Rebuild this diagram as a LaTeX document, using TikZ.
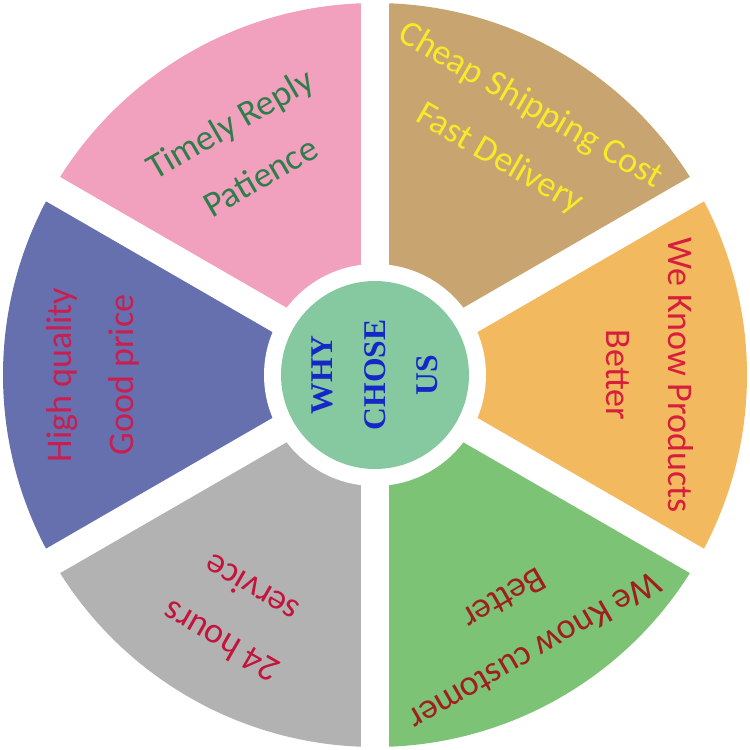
\documentclass[tikz,border=0pt]{standalone}
\usepackage{fontspec}
\setmainfont{Carlito}
\newfontfamily\whyfont{Liberation Serif}
\usetikzlibrary{positioning}
\definecolor{whyPink}{RGB}{241, 160, 190}
\definecolor{whyTan}{RGB}{200, 164, 112}
\definecolor{whyOrange}{RGB}{243, 185, 95}
\definecolor{whyGreen}{RGB}{124, 195, 118}
\definecolor{whyGray}{RGB}{178, 178, 178}
\definecolor{whyBlue}{RGB}{102, 112, 174}
\definecolor{whyCentre}{RGB}{134, 200, 160}
\definecolor{whyDarkGreen}{RGB}{47, 125, 74}
\definecolor{whyYellow}{RGB}{245, 235, 40}
\definecolor{whyRed}{RGB}{215, 30, 60}
\definecolor{whyBrownRed}{RGB}{160, 30, 30}
\definecolor{whyCrimson}{RGB}{195, 20, 60}
\definecolor{whyRose}{RGB}{200, 30, 80}
\definecolor{whyInk}{RGB}{20, 40, 200}

\begin{document}
\begin{tikzpicture}[
  sectortext/.style={
    font=\fontsize{20.5}{35}\selectfont,
    align=center,
    inner sep=0pt
  },
  gap/.style={white, line width=0.56cm}
]
  \useasboundingbox (-7.5,-7.5) rectangle (7.5,7.5);
  % sectors
  \fill[whyPink] (0,0) -- (90:7.44) arc[start angle=90,end angle=150,radius=7.44] -- cycle;
  \fill[whyTan] (0,0) -- (30:7.44) arc[start angle=30,end angle=90,radius=7.44] -- cycle;
  \fill[whyOrange] (0,0) -- (-30:7.44) arc[start angle=-30,end angle=30,radius=7.44] -- cycle;
  \fill[whyGreen] (0,0) -- (-90:7.44) arc[start angle=-90,end angle=-30,radius=7.44] -- cycle;
  \fill[whyGray] (0,0) -- (210:7.44) arc[start angle=210,end angle=270,radius=7.44] -- cycle;
  \fill[whyBlue] (0,0) -- (150:7.44) arc[start angle=150,end angle=210,radius=7.44] -- cycle;
  \foreach \a in {30,90,...,330}
    \draw[gap] (0,0) -- (\a:7.8);
  \fill[white] (0,0) circle[radius=2.22];
  % centre
  \node[circle,fill=whyCentre,minimum size=3.76cm,inner sep=0pt] (centre) {};
  \node[rotate=90,text=whyInk,align=center,
    font=\whyfont\bfseries\fontsize{18}{30}\selectfont] (why) at (centre)
    {WHY\\CHOSE\\US};
  % sector texts
  \node[sectortext,rotate=30,text=whyDarkGreen] (reply) at (120:5.2)
    {Timely Reply\\Patience};
  \node[sectortext,rotate=-30,text=whyYellow] (shipping) at (60:5.6)
    {Cheap Shipping Cost\\Fast Delivery};
  \node[sectortext,rotate=-90,text=whyRed] (products) at (0:5.5)
    {We Know Products\\Better};
  \node[sectortext,rotate=-150,text=whyBrownRed] (customer) at (-60:5.78)
    {We Know customer\\Better};
  \node[sectortext,rotate=150,text=whyCrimson] (service) at (240:5.56)
    {24 hours\\service};
  \node[sectortext,rotate=90,text=whyRose] (quality) at (180:5.64)
    {High quality\\Good price};
\end{tikzpicture}
\end{document}
